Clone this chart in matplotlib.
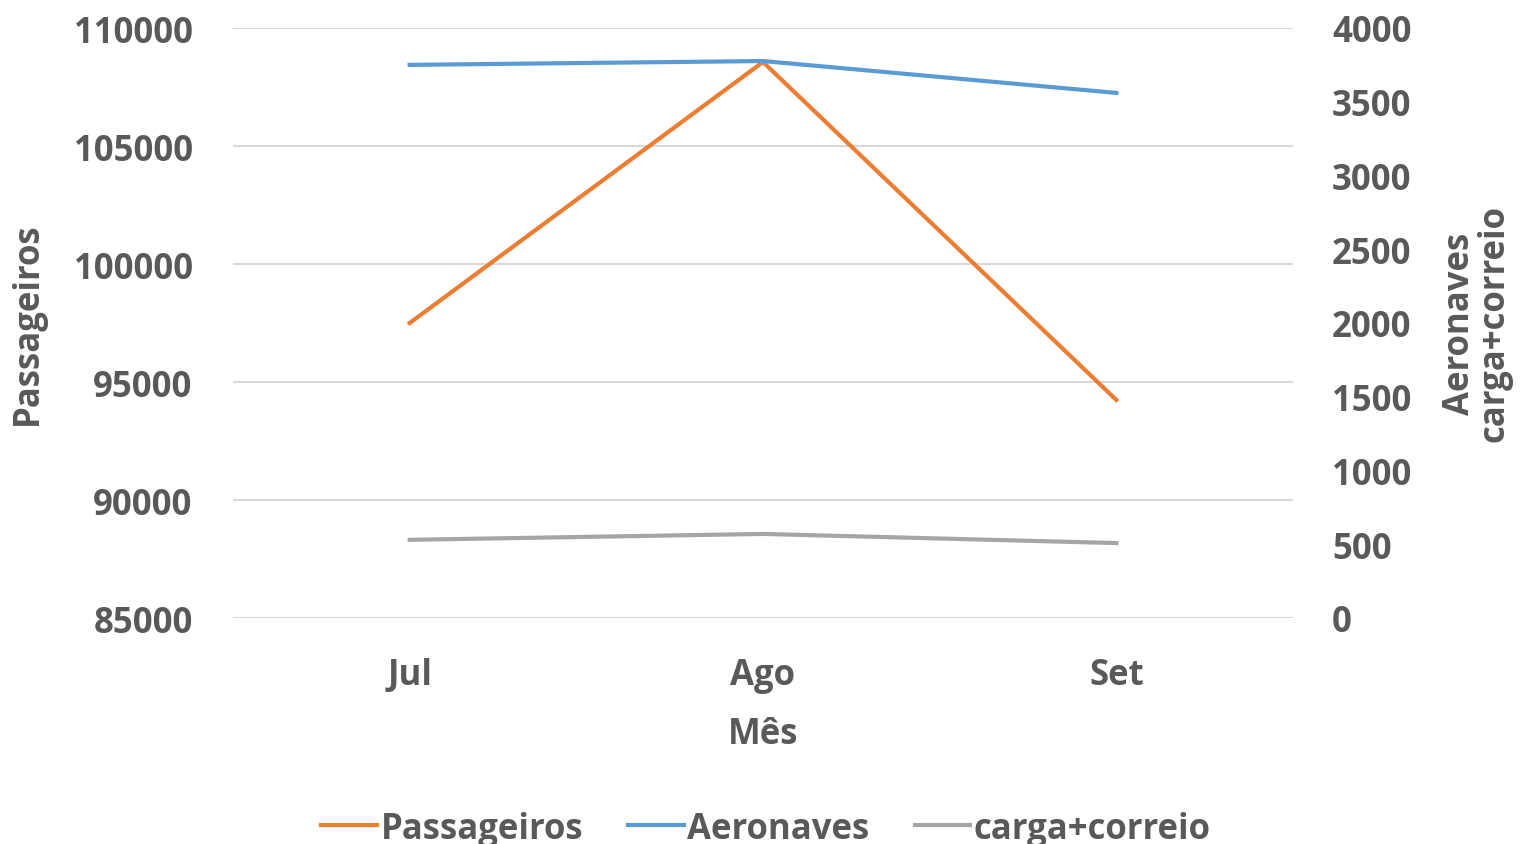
import matplotlib
matplotlib.use("Agg")
import matplotlib.pyplot as plt

# Data
meses = ["Jul", "Ago", "Set"]
passageiros = [97500, 108560, 94240]
aeronaves = [3750, 3776, 3560]
carga_correio = [530, 570, 508]

cor_texto = "#595959"
cor_grade = "#d9d9d9"

plt.rcParams["font.family"] = ["Open Sans", "DejaVu Sans"]
plt.rcParams["font.weight"] = "bold"

fig = plt.figure(figsize=(15.32, 8.45), dpi=100)
ax = fig.add_axes([233 / 1532, 1 - 619 / 845, (1293 - 233) / 1532, (619 - 29) / 845])
ax2 = ax.twinx()

x = range(len(meses))
l1, = ax.plot(x, passageiros, color="#ed7d31", lw=3, label="Passageiros", zorder=3)
l2, = ax2.plot(x, aeronaves, color="#5b9bd5", lw=3, label="Aeronaves")
l3, = ax2.plot(x, carga_correio, color="#a5a5a5", lw=3, label="carga+correio")

ax.set_xlim(-0.5, 2.5)
ax.set_ylim(85000, 110000)
ax.set_yticks(range(85000, 110001, 5000))
ax2.set_ylim(0, 4000)
ax2.set_yticks(range(0, 4001, 500))

ax.set_xticks(list(x))
ax.set_xticklabels(meses)
ax.grid(axis="y", color=cor_grade, lw=1.5)
ax.set_axisbelow(True)

for a in (ax, ax2):
    for s in a.spines.values():
        s.set_visible(False)
    a.tick_params(length=0, labelsize=25, colors=cor_texto)
ax.tick_params(axis="y", pad=29)
ax.tick_params(axis="x", pad=28)
ax2.tick_params(axis="y", pad=28)

ax.set_xlabel("Mês", fontsize=25, color=cor_texto, labelpad=17, fontweight="bold")
ax.set_ylabel("Passageiros", fontsize=25, color=cor_texto, labelpad=20, fontweight="bold")
ax2.set_ylabel("Aeronaves\ncarga+correio", fontsize=25, color=cor_texto, labelpad=22,
               fontweight="bold", linespacing=0.95)

fig.legend(handles=[l1, l2, l3], loc="lower center", bbox_to_anchor=(0.5, -0.04),
           ncol=3, frameon=False, fontsize=25, labelcolor=cor_texto,
           handlelength=1.6, handletextpad=0.1, columnspacing=1.3)

fig.savefig("out.png", dpi=100)
